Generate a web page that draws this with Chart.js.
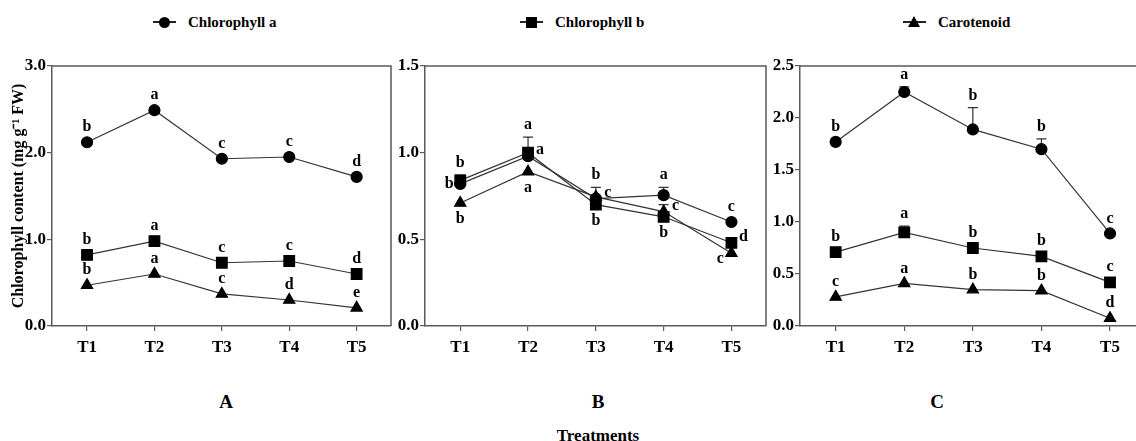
<!DOCTYPE html>
<html lang="en">
<head>
<meta charset="UTF-8">
<title>Chlorophyll content</title>
<style>
  html, body { margin: 0; padding: 0; width: 1136px; height: 441px; overflow: hidden; background: #fff; }
  body { position: relative; font-family: 'Liberation Serif', 'Times New Roman', serif; font-weight: bold; color: #000; }
  canvas { position: absolute; }
  .txt { position: absolute; white-space: nowrap; line-height: 1; }
  .leg { position: absolute; top: 14px; height: 16px; width: 160px; }
  .leg .ln { position: absolute; left: 0; top: 7px; width: 23px; height: 2px; background: #222; }
  .leg .dot { position: absolute; left: 6px; top: 3px; width: 11px; height: 11px; background: #000; border-radius: 50%; }
  .leg .sq { position: absolute; left: 6px; top: 3px; width: 11px; height: 11px; background: #000; }
  .leg .tri { position: absolute; left: 5px; top: 2px; width: 0; height: 0; border-left: 6.5px solid transparent; border-right: 6.5px solid transparent; border-bottom: 11px solid #000; }
  .leg span.t { position: absolute; left: 35px; top: 0; font-size: 15px; white-space: nowrap; line-height: 16px; }
</style>
</head>
<body>
  <div class="leg" style="left:153px"><div class="ln"></div><div class="dot"></div><span class="t">Chlorophyll a</span></div>
  <div class="leg" style="left:520px"><div class="ln"></div><div class="sq"></div><span class="t">Chlorophyll b</span></div>
  <div class="leg" style="left:903px"><div class="ln"></div><div class="tri"></div><span class="t">Carotenoid</span></div>

  <canvas id="chartA" width="400" height="330" style="left:0px;top:40px"></canvas>
  <canvas id="chartB" width="395" height="330" style="left:380px;top:40px"></canvas>
  <canvas id="chartC" width="399" height="330" style="left:755px;top:40px"></canvas>

  <div class="txt" style="left:226px;top:392px;font-size:19px;transform:translateX(-50%)">A</div>
  <div class="txt" style="left:598px;top:392px;font-size:19px;transform:translateX(-50%)">B</div>
  <div class="txt" style="left:937px;top:392px;font-size:19px;transform:translateX(-50%)">C</div>
  <div class="txt" style="left:598px;top:427px;font-size:17px;transform:translateX(-50%)">Treatments</div>

<script src="https://cdn.jsdelivr.net/npm/chart.js@4"></script>
<script>
// ---- data ----
const treatments = ['T1', 'T2', 'T3', 'T4', 'T5'];

// panel A
const a_chlA = [2.12, 2.49, 1.93, 1.95, 1.72];
const a_chlB = [0.82, 0.98, 0.73, 0.75, 0.60];
const a_car  = [0.47, 0.60, 0.37, 0.30, 0.21];
const a_chlA_sig = ['b', 'a', 'c', 'c', 'd'];
const a_chlB_sig = ['b', 'a', 'c', 'c', 'd'];
const a_car_sig  = ['b', 'a', 'c', 'd', 'e'];

// panel B
const b_chlA = [0.82, 0.98, 0.735, 0.755, 0.60];
const b_chlB = [0.84, 1.00, 0.70, 0.63, 0.48];
const b_car  = [0.71, 0.89, 0.745, 0.66, 0.42];
const b_chlA_err = [0, 0, 0, 0.045, 0];
const b_chlB_err = [0.03, 0.09, 0, 0, 0];
const b_car_err  = [0, 0, 0.055, 0.04, 0];
const b_chlA_sig = ['b', 'a', 'c', 'a', 'c'];
const b_chlB_sig = ['b', 'a', 'b', 'b', 'd'];
const b_car_sig  = ['b', 'a', 'b', 'c', 'c'];

// panel C
const c_chlA = [1.77, 2.25, 1.89, 1.70, 0.89];
const c_chlB = [0.71, 0.90, 0.75, 0.67, 0.42];
const c_car  = [0.28, 0.41, 0.35, 0.34, 0.075];
const c_chlA_err = [0, 0.05, 0.21, 0.10, 0];
const c_chlB_err = [0, 0.06, 0, 0, 0];
const c_chlA_sig = ['b', 'a', 'b', 'b', 'c'];
const c_chlB_sig = ['b', 'a', 'b', 'b', 'c'];
const c_car_sig  = ['c', 'a', 'b', 'b', 'd'];

// where each letter sits next to its point (panel B is crowded)
const b_chlA_place = ['left', 'right', 'right', 'above', 'above'];
const b_chlB_place = ['above', 'above', 'below', 'below', 'right'];
const b_car_place  = ['below', 'below', 'above', 'right', 'left'];

const FONT = "'Liberation Serif', 'Times New Roman', serif";
const AXIS = '#5a5a5a';

// error bars (upper only, with cap) drawn under the markers
const errorBars = {
  id: 'errorBars',
  beforeDatasetsDraw(chart) {
    const ctx = chart.ctx, ys = chart.scales.y;
    ctx.save();
    ctx.strokeStyle = '#333';
    ctx.lineWidth = 1.2;
    chart.data.datasets.forEach((ds, di) => {
      if (!ds.err) return;
      chart.getDatasetMeta(di).data.forEach((pt, i) => {
        const e = ds.err[i];
        if (!e) return;
        const top = ys.getPixelForValue(ds.data[i].y + e);
        ctx.beginPath();
        ctx.moveTo(pt.x, pt.y);
        ctx.lineTo(pt.x, top);
        ctx.moveTo(pt.x - 5, top);
        ctx.lineTo(pt.x + 5, top);
        ctx.stroke();
      });
    });
    ctx.restore();
  }
};

// significance letters
const sigLetters = {
  id: 'sigLetters',
  afterDatasetsDraw(chart) {
    const ctx = chart.ctx, ys = chart.scales.y;
    ctx.save();
    ctx.font = 'bold 16px ' + FONT;
    ctx.fillStyle = '#000';
    ctx.textAlign = 'center';
    ctx.textBaseline = 'middle';
    chart.data.datasets.forEach((ds, di) => {
      chart.getDatasetMeta(di).data.forEach((pt, i) => {
        const where = ds.place ? ds.place[i] : 'above';
        const top = ys.getPixelForValue(ds.data[i].y + (ds.err ? ds.err[i] : 0));
        let x = pt.x, y = pt.y;
        if (where === 'above') y = Math.min(pt.y - 15, top - 12);
        else if (where === 'below') y = pt.y + 16;
        else if (where === 'left') { x = pt.x - 11; y = pt.y + (ds.pointStyle === 'triangle' ? 6 : 0); }
        else if (where === 'right') { x = pt.x + 12; y = pt.y - 6; }
        ctx.fillText(ds.sig[i], x, y);
      });
    });
    ctx.restore();
  }
};

// top and right frame lines
const frame = {
  id: 'frame',
  afterDraw(chart) {
    const { ctx, chartArea: a } = chart;
    ctx.save();
    ctx.strokeStyle = AXIS;
    ctx.lineWidth = 1.5;
    ctx.beginPath();
    ctx.moveTo(a.left, a.top);
    ctx.lineTo(a.right, a.top);
    ctx.lineTo(a.right, a.bottom);
    ctx.stroke();
    ctx.restore();
  }
};

function pts(vals) {
  return vals.map((v, i) => ({ x: i + 1, y: v }));
}

function series(label, vals, style, radius, sig, err, place) {
  return {
    label: label,
    data: pts(vals),
    err: err,
    sig: sig,
    place: place,
    borderColor: '#333',
    borderWidth: 1.2,
    pointStyle: style,
    pointRadius: radius,
    pointHoverRadius: radius,
    pointBackgroundColor: '#000',
    pointBorderColor: '#000',
    tension: 0,
    clip: false
  };
}

function makePanel(id, datasets, yMax, yStep, axisWidth, yTitle) {
  new Chart(document.getElementById(id), {
    type: 'line',
    data: { datasets: datasets },
    plugins: [errorBars, sigLetters, frame],
    options: {
      responsive: false,
      animation: false,
      events: [],
      layout: { padding: { top: 26, right: 9, bottom: 0, left: 0 } },
      plugins: { legend: { display: false }, tooltip: { enabled: false } },
      scales: {
        x: {
          type: 'linear',
          min: 0.48,
          max: 5.51,
          afterBuildTicks: s => { s.ticks = treatments.map((t, i) => ({ value: i + 1 })); },
          afterFit: s => { s.height = 44; },
          border: { color: AXIS, width: 1.5 },
          grid: { drawOnChartArea: false, drawTicks: true, tickLength: 5, color: AXIS, lineWidth: 1.2 },
          ticks: {
            padding: 6,
            color: '#000',
            maxRotation: 0,
            font: { family: FONT, size: 17, weight: 'bold' },
            callback: v => treatments[v - 1]
          }
        },
        y: {
          min: 0,
          max: yMax,
          afterFit: s => { s.width = axisWidth; },
          border: { color: AXIS, width: 1.5 },
          grid: { drawOnChartArea: false, drawTicks: true, tickLength: 5, color: AXIS, lineWidth: 1.2 },
          ticks: {
            stepSize: yStep,
            padding: 1,
            color: '#000',
            font: { family: FONT, size: 17, weight: 'bold' },
            callback: v => v.toFixed(1)
          },
          title: {
            display: !!yTitle,
            text: yTitle || '',
            color: '#000',
            padding: { top: 9, bottom: 0 },
            font: { family: FONT, size: 16, weight: 'bold' }
          }
        }
      }
    }
  });
}

makePanel('chartA', [
  series('Chlorophyll a', a_chlA, 'circle', 5.5, a_chlA_sig),
  series('Chlorophyll b', a_chlB, 'rect', 7.5, a_chlB_sig),
  series('Carotenoid', a_car, 'triangle', 6.5, a_car_sig)
], 3, 1, 52, 'Chlorophyll content (mg g\u207B\u00B9 FW)');

makePanel('chartB', [
  series('Chlorophyll a', b_chlA, 'circle', 5.5, b_chlA_sig, b_chlA_err, b_chlA_place),
  series('Chlorophyll b', b_chlB, 'rect', 7.5, b_chlB_sig, b_chlB_err, b_chlB_place),
  series('Carotenoid', b_car, 'triangle', 6.5, b_car_sig, b_car_err, b_car_place)
], 1.5, 0.5, 45);

makePanel('chartC', [
  series('Chlorophyll a', c_chlA, 'circle', 5.5, c_chlA_sig, c_chlA_err),
  series('Chlorophyll b', c_chlB, 'rect', 7.5, c_chlB_sig, c_chlB_err),
  series('Carotenoid', c_car, 'triangle', 6.5, c_car_sig)
], 2.5, 0.5, 45);
</script>
</body>
</html>
